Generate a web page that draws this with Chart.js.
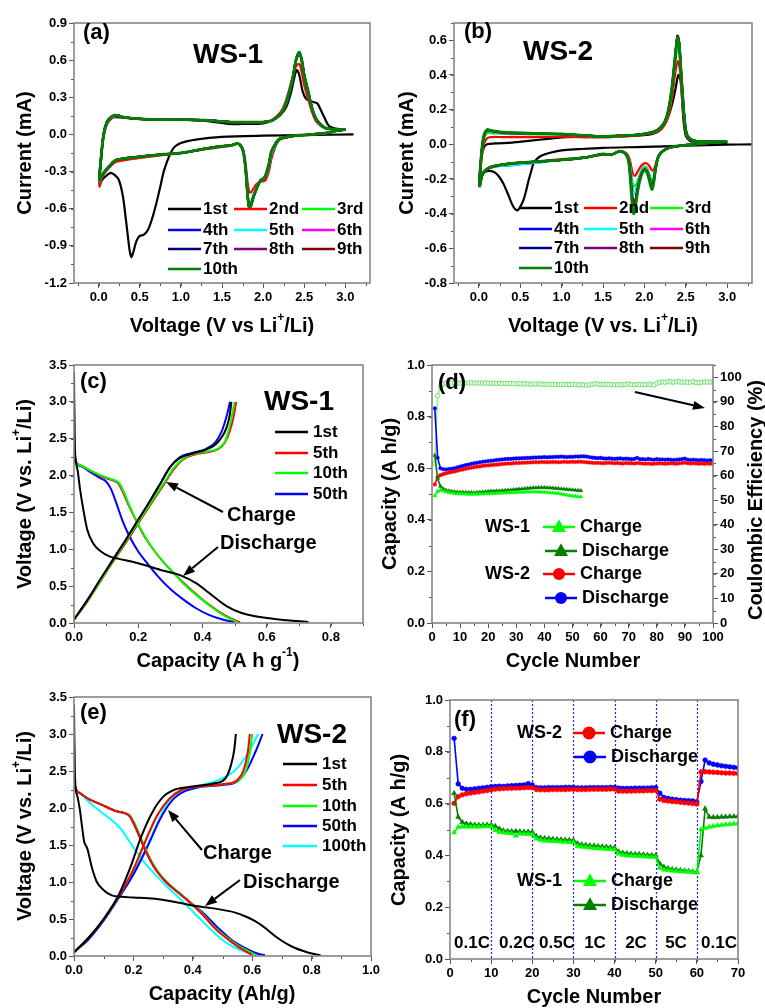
<!DOCTYPE html>
<html>
<head>
<meta charset="utf-8">
<script src="https://cdn.jsdelivr.net/npm/chart.js@4.4.0/dist/chart.umd.min.js"></script>
<style>
html, body { margin: 0; padding: 0; background: #fff; }
#wrap { position: relative; width: 765px; height: 1008px; overflow: hidden; }
canvas { position: absolute; left: 0; top: 0; }
</style>
</head>
<body>
<div id="wrap">
<canvas id="pa" width="765" height="1008"></canvas>
<canvas id="pb" width="765" height="1008"></canvas>
<canvas id="pc" width="765" height="1008"></canvas>
<canvas id="pd" width="765" height="1008"></canvas>
<canvas id="pe" width="765" height="1008"></canvas>
<canvas id="pf" width="765" height="1008"></canvas>
</div>
<script>
// ---------- data ----------
var cycleNames = ['1st', '2nd', '3rd', '4th', '5th', '6th', '7th', '8th', '9th', '10th'];
var cycleColors = ['#000000', '#ff0000', '#00ff00', '#0000ff', '#00ffff', '#ff00ff', '#000080', '#800080', '#800000', '#008000'];

// (a) CV WS-1, first cycle
var cvA1V = [3.10,2.50,2.00,1.50,1.20,1.00,0.90,0.80,0.75,0.70,0.65,0.60,0.55,0.50,0.46,0.43,0.40,0.38,0.36,0.33,0.30,0.27,0.24,0.20,0.15,0.10,0.05,0.01,
  0.03,0.06,0.10,0.15,0.20,0.30,0.50,0.80,1.00,1.30,1.60,1.80,2.00,2.10,2.20,2.28,2.34,2.38,2.41,2.44,2.48,2.52,2.57,2.62,2.66,2.70,2.75,2.80,2.90,3.00];
var cvA1I = [0.000,-0.005,-0.010,-0.020,-0.040,-0.070,-0.120,-0.280,-0.420,-0.560,-0.680,-0.770,-0.810,-0.820,-0.860,-0.930,-0.990,-0.950,-0.850,-0.680,-0.520,-0.420,-0.360,-0.330,-0.310,-0.330,-0.360,-0.400,
  -0.200,0.000,0.090,0.130,0.140,0.135,0.125,0.120,0.120,0.110,0.085,0.085,0.090,0.110,0.150,0.220,0.340,0.460,0.520,0.480,0.350,0.290,0.270,0.260,0.250,0.200,0.130,0.070,0.045,0.040];
// (a) later cycles share one voltage sweep
var cvAV = [3.00,2.90,2.80,2.60,2.40,2.30,2.20,2.15,2.10,2.07,2.03,2.00,1.97,1.92,1.88,1.85,1.83,1.81,1.79,1.77,1.75,1.72,1.69,1.65,1.60,1.50,1.30,1.00,0.80,0.50,0.30,0.20,0.10,0.05,0.01,
  0.03,0.06,0.10,0.15,0.20,0.25,0.30,0.50,0.80,1.00,1.30,1.60,1.80,2.00,2.10,2.17,2.23,2.28,2.32,2.36,2.40,2.44,2.47,2.50,2.55,2.60,2.65,2.75,2.90,3.00];
var cvA2I = [0.040,0.030,0.015,0.000,-0.010,-0.022,-0.045,-0.100,-0.200,-0.300,-0.370,-0.380,-0.380,-0.400,-0.440,-0.470,-0.460,-0.380,-0.250,-0.160,-0.110,-0.085,-0.075,-0.080,-0.090,-0.100,-0.120,-0.150,-0.165,-0.190,-0.210,-0.225,-0.290,-0.340,-0.420,
  -0.200,-0.020,0.080,0.125,0.145,0.145,0.140,0.125,0.120,0.120,0.115,0.100,0.100,0.100,0.115,0.150,0.200,0.280,0.370,0.470,0.550,0.570,0.500,0.400,0.280,0.170,0.100,0.050,0.040,0.040];
var cvA3I = [0.040,0.030,0.015,0.000,-0.010,-0.020,-0.040,-0.085,-0.160,-0.260,-0.340,-0.360,-0.370,-0.430,-0.500,-0.560,-0.570,-0.470,-0.290,-0.175,-0.115,-0.085,-0.075,-0.080,-0.090,-0.095,-0.115,-0.150,-0.160,-0.180,-0.195,-0.210,-0.275,-0.320,-0.380,
  -0.190,-0.010,0.090,0.135,0.150,0.150,0.140,0.125,0.120,0.120,0.115,0.100,0.100,0.100,0.110,0.140,0.185,0.260,0.350,0.460,0.600,0.650,0.590,0.470,0.330,0.195,0.115,0.052,0.040,0.040];
var cvA10I = [0.040,0.030,0.015,0.000,-0.010,-0.020,-0.035,-0.075,-0.140,-0.240,-0.330,-0.360,-0.370,-0.440,-0.510,-0.580,-0.590,-0.480,-0.300,-0.180,-0.120,-0.085,-0.075,-0.080,-0.090,-0.095,-0.115,-0.150,-0.160,-0.180,-0.195,-0.210,-0.280,-0.320,-0.370,
  -0.180,0.000,0.100,0.140,0.155,0.150,0.140,0.125,0.120,0.120,0.115,0.100,0.100,0.100,0.110,0.140,0.180,0.250,0.340,0.450,0.600,0.665,0.600,0.480,0.340,0.200,0.120,0.055,0.040,0.040];

// (b) CV WS-2
var cvB1V = [3.30,3.00,2.50,2.00,1.50,1.20,1.00,0.85,0.76,0.70,0.66,0.63,0.60,0.57,0.54,0.50,0.47,0.44,0.40,0.35,0.30,0.25,0.20,0.15,0.10,0.05,0.01,
  0.03,0.06,0.10,0.20,0.40,0.60,0.80,1.00,1.30,1.60,1.90,2.10,2.20,2.28,2.34,2.38,2.41,2.44,2.47,2.50,2.55,2.60,2.80,3.00];
var cvB1I = [0.000,-0.002,-0.008,-0.015,-0.020,-0.028,-0.035,-0.050,-0.065,-0.085,-0.110,-0.160,-0.210,-0.270,-0.320,-0.360,-0.380,-0.375,-0.345,-0.285,-0.230,-0.190,-0.165,-0.155,-0.155,-0.165,-0.210,
  -0.080,-0.020,0.000,0.005,0.010,0.020,0.030,0.040,0.045,0.045,0.050,0.060,0.085,0.150,0.240,0.330,0.400,0.360,0.150,0.050,0.020,0.015,0.010,0.010];
var cvBV = [3.00,2.80,2.60,2.40,2.30,2.22,2.17,2.14,2.11,2.09,2.06,2.03,2.00,1.97,1.94,1.91,1.89,1.87,1.85,1.83,1.81,1.78,1.74,1.70,1.65,1.60,1.50,1.30,1.00,0.70,0.40,0.25,0.15,0.08,0.04,0.01,
  0.03,0.06,0.10,0.15,0.30,0.60,1.00,1.30,1.50,1.70,1.90,2.05,2.15,2.22,2.27,2.31,2.34,2.37,2.40,2.42,2.44,2.46,2.49,2.52,2.60,2.80,3.00];
var cvB2I = [0.015,0.010,0.000,-0.010,-0.020,-0.040,-0.065,-0.110,-0.150,-0.150,-0.125,-0.110,-0.110,-0.120,-0.140,-0.165,-0.180,-0.180,-0.150,-0.100,-0.070,-0.050,-0.040,-0.040,-0.050,-0.060,-0.060,-0.075,-0.085,-0.100,-0.110,-0.120,-0.135,-0.150,-0.170,-0.220,
  -0.100,0.000,0.035,0.042,0.042,0.042,0.045,0.040,0.040,0.045,0.050,0.060,0.070,0.095,0.135,0.200,0.290,0.400,0.480,0.460,0.360,0.240,0.100,0.040,0.020,0.015,0.015];
var cvB3I = [0.015,0.010,0.000,-0.010,-0.020,-0.040,-0.068,-0.120,-0.190,-0.210,-0.170,-0.135,-0.130,-0.145,-0.180,-0.220,-0.240,-0.240,-0.200,-0.130,-0.080,-0.055,-0.042,-0.040,-0.050,-0.060,-0.058,-0.075,-0.088,-0.100,-0.110,-0.120,-0.132,-0.150,-0.175,-0.230,
  -0.080,0.030,0.065,0.065,0.060,0.058,0.056,0.048,0.043,0.048,0.053,0.063,0.075,0.105,0.150,0.230,0.330,0.460,0.560,0.540,0.410,0.280,0.110,0.045,0.020,0.015,0.015];
var cvB4I = [0.015,0.010,0.000,-0.010,-0.020,-0.040,-0.068,-0.125,-0.210,-0.230,-0.185,-0.145,-0.140,-0.155,-0.195,-0.250,-0.280,-0.285,-0.240,-0.150,-0.090,-0.058,-0.044,-0.040,-0.050,-0.060,-0.057,-0.075,-0.090,-0.105,-0.120,-0.125,-0.132,-0.150,-0.178,-0.235,
  -0.070,0.040,0.075,0.072,0.065,0.062,0.058,0.049,0.044,0.049,0.054,0.064,0.078,0.108,0.155,0.240,0.345,0.480,0.580,0.560,0.425,0.290,0.115,0.048,0.020,0.015,0.015];
var cvB6I = [0.015,0.010,0.000,-0.010,-0.020,-0.040,-0.070,-0.128,-0.220,-0.250,-0.200,-0.155,-0.145,-0.165,-0.210,-0.280,-0.330,-0.350,-0.290,-0.180,-0.095,-0.060,-0.045,-0.040,-0.050,-0.060,-0.056,-0.075,-0.090,-0.100,-0.110,-0.120,-0.130,-0.150,-0.180,-0.238,
  -0.065,0.045,0.082,0.078,0.068,0.064,0.059,0.050,0.045,0.050,0.055,0.065,0.080,0.110,0.158,0.248,0.355,0.495,0.625,0.585,0.440,0.298,0.118,0.049,0.020,0.015,0.015];
var cvB10I = [0.015,0.010,0.000,-0.010,-0.020,-0.040,-0.070,-0.130,-0.230,-0.260,-0.210,-0.160,-0.150,-0.170,-0.220,-0.300,-0.370,-0.400,-0.330,-0.200,-0.100,-0.060,-0.045,-0.040,-0.050,-0.060,-0.055,-0.075,-0.090,-0.100,-0.110,-0.120,-0.130,-0.150,-0.180,-0.240,
  -0.060,0.050,0.085,0.080,0.070,0.065,0.060,0.050,0.045,0.050,0.055,0.065,0.080,0.110,0.160,0.250,0.360,0.500,0.615,0.580,0.440,0.300,0.120,0.050,0.020,0.015,0.015];

// (c) charge/discharge WS-1
var gcNames = ['1st', '5th', '10th', '50th', '100th'];
var gcColors = ['#000000', '#ff0000', '#00ff00', '#0000ff', '#00ffff'];
var c1DQ = [0,0.002,0.006,0.012,0.019,0.029,0.041,0.060,0.081,0.112,0.140,0.200,0.270,0.330,0.380,0.420,0.475,0.520,0.580,0.630,0.680,0.730];
var c1DV = [3.40,2.50,2.20,2.05,1.81,1.54,1.27,1.08,0.98,0.90,0.87,0.81,0.72,0.65,0.54,0.41,0.23,0.14,0.08,0.05,0.03,0.015];
var c1CQ = [0,0.04,0.08,0.12,0.16,0.20,0.24,0.27,0.30,0.33,0.37,0.41,0.44,0.46,0.475,0.485,0.490];
var c1CV = [0.05,0.30,0.58,0.85,1.12,1.40,1.68,1.90,2.12,2.24,2.30,2.35,2.42,2.52,2.65,2.82,3.00];
var c5DQ = [0,0.001,0.003,0.020,0.050,0.080,0.110,0.130,0.140,0.155,0.170,0.190,0.220,0.250,0.280,0.310,0.340,0.370,0.400,0.430,0.460,0.490,0.517];
var c5DV = [3.00,2.40,2.22,2.14,2.07,2.00,1.95,1.92,1.88,1.75,1.60,1.42,1.17,0.98,0.82,0.68,0.55,0.43,0.32,0.22,0.13,0.06,0.01];
var c5CQ = [0,0.04,0.08,0.12,0.16,0.20,0.24,0.28,0.31,0.34,0.38,0.42,0.45,0.47,0.485,0.497,0.505];
var c5CV = [0.04,0.28,0.55,0.82,1.08,1.35,1.62,1.88,2.08,2.22,2.29,2.32,2.36,2.45,2.60,2.80,3.00];
var c10DQ = [0,0.001,0.003,0.020,0.050,0.080,0.110,0.130,0.142,0.157,0.172,0.190,0.220,0.250,0.280,0.310,0.340,0.370,0.400,0.430,0.460,0.490,0.510];
var c10DV = [3.00,2.40,2.22,2.14,2.07,2.01,1.96,1.93,1.89,1.76,1.60,1.43,1.18,0.98,0.82,0.68,0.54,0.42,0.31,0.21,0.12,0.05,0.01];
var c10CQ = [0,0.04,0.08,0.12,0.16,0.20,0.24,0.28,0.31,0.34,0.38,0.42,0.45,0.47,0.482,0.492,0.500];
var c10CV = [0.04,0.29,0.56,0.83,1.10,1.37,1.64,1.90,2.10,2.23,2.30,2.33,2.37,2.46,2.62,2.81,3.00];
var c50DQ = [0,0.001,0.003,0.020,0.050,0.080,0.100,0.115,0.130,0.150,0.170,0.200,0.230,0.260,0.300,0.340,0.380,0.420,0.460,0.500];
var c50DV = [3.00,2.40,2.20,2.13,2.05,1.97,1.92,1.82,1.65,1.40,1.20,0.97,0.80,0.64,0.46,0.32,0.20,0.11,0.05,0.01];
var c50CQ = [0,0.04,0.08,0.12,0.16,0.20,0.24,0.27,0.30,0.33,0.37,0.41,0.44,0.46,0.475,0.486];
var c50CV = [0.04,0.30,0.57,0.85,1.12,1.40,1.68,1.90,2.12,2.25,2.31,2.36,2.45,2.60,2.80,3.00];

// (e) charge/discharge WS-2
var e1DQ = [0,0.002,0.005,0.012,0.020,0.027,0.034,0.045,0.060,0.077,0.100,0.127,0.160,0.200,0.250,0.290,0.340,0.390,0.440,0.490,0.540,0.580,0.610,0.640,0.680,0.730,0.790,0.830];
var e1DV = [3.40,2.60,2.30,2.15,1.97,1.75,1.55,1.45,1.20,1.00,0.89,0.82,0.80,0.79,0.78,0.765,0.73,0.69,0.66,0.63,0.59,0.53,0.47,0.39,0.26,0.135,0.045,0.01];
var e1CQ = [0,0.05,0.10,0.15,0.19,0.225,0.265,0.30,0.34,0.40,0.47,0.51,0.53,0.54,0.545];
var e1CV = [0.05,0.25,0.50,0.82,1.20,1.60,1.95,2.15,2.25,2.29,2.33,2.40,2.60,2.80,3.00];
var e5DQ = [0,0.001,0.003,0.020,0.050,0.090,0.140,0.170,0.185,0.200,0.220,0.240,0.270,0.310,0.350,0.380,0.430,0.480,0.520,0.550,0.580,0.600];
var e5DV = [3.00,2.45,2.30,2.20,2.12,2.05,1.96,1.93,1.90,1.80,1.62,1.43,1.20,1.00,0.86,0.76,0.57,0.35,0.22,0.13,0.06,0.01];
var e5CQ = [0,0.05,0.10,0.15,0.20,0.24,0.28,0.32,0.36,0.42,0.50,0.55,0.57,0.585,0.592];
var e5CV = [0.05,0.25,0.50,0.80,1.17,1.55,1.90,2.12,2.24,2.29,2.32,2.38,2.50,2.75,3.00];
var e10DQ = [0,0.001,0.003,0.020,0.050,0.090,0.140,0.172,0.188,0.203,0.223,0.243,0.273,0.313,0.353,0.383,0.433,0.483,0.525,0.557,0.590,0.615];
var e10DV = [3.00,2.45,2.30,2.20,2.12,2.05,1.96,1.93,1.90,1.80,1.62,1.43,1.20,1.00,0.86,0.76,0.57,0.35,0.22,0.13,0.06,0.01];
var e10CQ = [0,0.05,0.10,0.15,0.20,0.24,0.28,0.32,0.36,0.42,0.50,0.555,0.578,0.592,0.600];
var e10CV = [0.05,0.25,0.50,0.80,1.17,1.55,1.90,2.12,2.24,2.29,2.32,2.38,2.50,2.75,3.00];
var e50DQ = [0,0.001,0.003,0.020,0.050,0.090,0.140,0.170,0.185,0.200,0.220,0.240,0.270,0.310,0.350,0.380,0.430,0.480,0.530,0.580,0.620,0.643];
var e50DV = [3.00,2.45,2.30,2.20,2.12,2.05,1.96,1.93,1.90,1.80,1.62,1.43,1.20,1.00,0.86,0.76,0.60,0.40,0.22,0.10,0.03,0.01];
var e50CQ = [0,0.05,0.10,0.15,0.20,0.25,0.29,0.33,0.37,0.42,0.50,0.55,0.58,0.61,0.635];
var e50CV = [0.05,0.23,0.48,0.78,1.10,1.50,1.85,2.10,2.22,2.28,2.31,2.36,2.50,2.75,3.00];
var e100DQ = [0,0.001,0.003,0.020,0.050,0.090,0.120,0.155,0.200,0.230,0.260,0.310,0.350,0.380,0.420,0.450,0.490,0.520,0.560,0.590,0.620];
var e100DV = [3.40,2.50,2.30,2.20,2.08,1.95,1.86,1.73,1.47,1.30,1.16,0.95,0.80,0.68,0.52,0.40,0.25,0.16,0.08,0.04,0.01];
var e100CQ = [0,0.05,0.10,0.15,0.20,0.25,0.29,0.32,0.36,0.40,0.45,0.50,0.54,0.58,0.620];
var e100CV = [0.05,0.23,0.48,0.78,1.12,1.52,1.88,2.10,2.22,2.28,2.33,2.40,2.50,2.70,3.00];

// (d) cycling, capacity in A h/g, efficiency in %
var d2Dis = [0.832,0.640,0.600,0.596,0.595,0.597,0.598,0.600,0.603,0.606,
  0.609,0.612,0.614,0.617,0.619,0.621,0.623,0.625,0.626,0.628,
  0.629,0.630,0.632,0.633,0.634,0.635,0.636,0.636,0.637,0.638,
  0.638,0.639,0.639,0.640,0.640,0.641,0.641,0.642,0.642,0.643,
  0.642,0.643,0.643,0.644,0.644,0.645,0.644,0.643,0.644,0.644,
  0.645,0.645,0.646,0.646,0.645,0.643,0.641,0.640,0.639,0.640,
  0.638,0.637,0.638,0.637,0.636,0.637,0.638,0.636,0.637,0.636,
  0.635,0.636,0.640,0.635,0.635,0.634,0.636,0.634,0.633,0.635,
  0.634,0.634,0.633,0.634,0.633,0.632,0.633,0.634,0.635,0.637,
  0.633,0.632,0.633,0.632,0.631,0.632,0.631,0.630,0.631,0.631];
var d2Chg = [0.537,0.565,0.573,0.577,0.580,0.583,0.585,0.587,0.590,0.593,
  0.595,0.598,0.600,0.602,0.604,0.606,0.607,0.609,0.610,0.611,
  0.612,0.613,0.614,0.615,0.616,0.617,0.618,0.618,0.619,0.620,
  0.620,0.621,0.621,0.622,0.622,0.623,0.623,0.623,0.624,0.624,
  0.623,0.624,0.624,0.624,0.623,0.624,0.625,0.624,0.624,0.625,
  0.624,0.625,0.625,0.624,0.623,0.622,0.621,0.620,0.621,0.620,
  0.619,0.620,0.621,0.620,0.619,0.620,0.619,0.618,0.620,0.619,
  0.619,0.618,0.620,0.619,0.618,0.617,0.618,0.616,0.617,0.618,
  0.619,0.618,0.617,0.618,0.619,0.618,0.617,0.619,0.620,0.621,
  0.619,0.618,0.619,0.618,0.617,0.618,0.617,0.618,0.617,0.618];
var dCE = [65.0,92.5,96.0,97.3,97.6,97.8,97.7,97.8,97.7,97.6,
  97.7,97.6,97.7,97.8,97.7,97.6,97.7,97.6,97.7,97.6,
  97.5,97.6,97.5,97.6,97.4,97.5,97.4,97.5,97.4,97.3,
  97.4,97.3,97.4,97.3,97.2,97.3,97.2,97.3,97.2,97.1,
  97.2,97.1,97.2,97.1,97.0,97.1,97.0,97.1,97.0,97.1,
  97.0,96.9,97.0,96.9,96.8,96.9,97.1,97.4,97.2,97.0,
  97.1,97.2,97.0,97.1,96.9,97.0,96.9,97.0,97.1,97.3,
  97.0,96.9,97.1,97.0,96.9,97.0,97.2,97.1,96.8,97.6,
  98.0,98.1,98.0,98.2,98.1,98.0,98.2,98.1,98.0,98.1,
  97.9,98.0,98.2,97.8,97.9,98.0,98.1,98.0,98.1,98.1];
var d1Chg = [0.493,0.510,0.515,0.512,0.509,0.506,0.504,0.502,0.501,0.500,
  0.500,0.500,0.499,0.499,0.499,0.499,0.500,0.500,0.501,0.501,
  0.502,0.502,0.503,0.503,0.504,0.504,0.505,0.505,0.506,0.506,
  0.507,0.507,0.507,0.508,0.508,0.508,0.508,0.508,0.507,0.507,
  0.506,0.505,0.504,0.503,0.502,0.500,0.498,0.496,0.494,0.492,
  0.491,0.490,0.489];
var d1Dis = [0.650,0.560,0.530,0.520,0.515,0.512,0.510,0.509,0.508,0.507,
  0.507,0.506,0.506,0.506,0.505,0.506,0.507,0.508,0.509,0.510,
  0.511,0.511,0.512,0.512,0.513,0.514,0.515,0.516,0.517,0.518,
  0.519,0.520,0.521,0.522,0.523,0.524,0.524,0.525,0.525,0.525,
  0.524,0.524,0.523,0.522,0.521,0.520,0.519,0.518,0.517,0.516,
  0.515,0.514,0.513];

// (f) rate test
var rateLabels = ['0.1C', '0.2C', '0.5C', '1C', '2C', '5C', '0.1C'];
var rateBreaks = [10, 20, 30, 40, 50, 60];
var f2Dis = [0.852,0.676,0.659,0.655,0.655,0.657,0.659,0.661,0.663,0.665,
  0.666,0.667,0.666,0.668,0.669,0.670,0.671,0.672,0.677,0.672,
  0.662,0.661,0.661,0.662,0.662,0.662,0.662,0.663,0.663,0.663,
  0.661,0.661,0.661,0.662,0.662,0.662,0.662,0.662,0.663,0.663,
  0.660,0.659,0.659,0.659,0.660,0.660,0.660,0.660,0.661,0.662,
  0.640,0.624,0.620,0.617,0.615,0.613,0.612,0.611,0.610,0.607,
  0.685,0.768,0.757,0.752,0.749,0.746,0.744,0.742,0.740,0.738];
var f2Chg = [0.601,0.627,0.634,0.638,0.641,0.643,0.645,0.648,0.650,0.653,
  0.656,0.657,0.658,0.659,0.659,0.660,0.660,0.661,0.662,0.661,
  0.654,0.653,0.653,0.653,0.654,0.654,0.654,0.654,0.655,0.655,
  0.654,0.654,0.654,0.655,0.655,0.655,0.655,0.655,0.656,0.656,
  0.648,0.648,0.648,0.648,0.649,0.649,0.649,0.650,0.650,0.651,
  0.617,0.612,0.610,0.608,0.607,0.605,0.603,0.602,0.600,0.598,
  0.722,0.723,0.722,0.721,0.720,0.719,0.718,0.718,0.717,0.716];
var f1Dis = [0.640,0.548,0.528,0.522,0.520,0.518,0.517,0.517,0.518,0.518,
  0.513,0.503,0.496,0.494,0.493,0.493,0.492,0.491,0.491,0.490,
  0.474,0.468,0.466,0.465,0.463,0.462,0.461,0.460,0.459,0.458,
  0.446,0.442,0.440,0.438,0.437,0.435,0.434,0.433,0.431,0.430,
  0.414,0.410,0.408,0.406,0.405,0.404,0.403,0.402,0.401,0.400,
  0.368,0.355,0.350,0.347,0.345,0.343,0.341,0.340,0.338,0.336,
  0.400,0.580,0.548,0.547,0.547,0.548,0.549,0.550,0.550,0.551];
var f1Chg = [0.488,0.510,0.511,0.511,0.511,0.511,0.511,0.512,0.512,0.512,
  0.497,0.490,0.488,0.486,0.485,0.476,0.484,0.483,0.482,0.481,
  0.464,0.459,0.457,0.456,0.455,0.454,0.453,0.452,0.451,0.450,
  0.436,0.433,0.431,0.430,0.428,0.427,0.426,0.425,0.424,0.423,
  0.406,0.402,0.400,0.399,0.398,0.397,0.396,0.395,0.394,0.393,
  0.352,0.345,0.343,0.341,0.340,0.338,0.337,0.336,0.335,0.333,
  0.500,0.505,0.510,0.513,0.515,0.517,0.519,0.520,0.522,0.524];

// tick labels
var ticksCV = [0, 0.5, 1.0, 1.5, 2.0, 2.5, 3.0];
var ticksA = [-1.2, -0.9, -0.6, -0.3, 0, 0.3, 0.6, 0.9];
var ticksB = [-0.8, -0.6, -0.4, -0.2, 0, 0.2, 0.4, 0.6];
var ticksVolt = [0, 0.5, 1.0, 1.5, 2.0, 2.5, 3.0, 3.5];
var ticksCapC = [0, 0.2, 0.4, 0.6, 0.8];
var ticksCapE = [0, 0.2, 0.4, 0.6, 0.8, 1.0];
var ticksCap = [0, 0.2, 0.4, 0.6, 0.8, 1.0];
var ticksCycD = [0, 10, 20, 30, 40, 50, 60, 70, 80, 90, 100];
var ticksCE = [0, 10, 20, 30, 40, 50, 60, 70, 80, 90, 100];
var ticksCycF = [0, 10, 20, 30, 40, 50, 60, 70];

// ---------- drawing helpers ----------
var FONT = '"Liberation Sans", Arial, Helvetica, sans-serif';
Chart.defaults.font.family = FONT;
Chart.defaults.font.weight = 'bold';
Chart.defaults.color = '#000';

var deco = {};

function pts(xs, ys) {
  return xs.map(function (x, i) { return { x: x, y: ys[i] }; });
}
function counts(n) {
  return Array.from({ length: n }, function (_, i) { return i + 1; });
}

function drawRich(ctx, it) {
  var size = it.size || 20;
  var parts = it.s.split(/(\{[^}]*\})/).filter(function (p) { return p; }).map(function (p) {
    return p[0] === '{' ? { t: p.slice(1, -1), sup: true } : { t: p, sup: false };
  });
  var fnt = function (sup) { return 'bold ' + (sup ? Math.round(size * 0.62) : size) + 'px ' + FONT; };
  var w = 0;
  parts.forEach(function (p) { ctx.font = fnt(p.sup); p.w = ctx.measureText(p.t).width; w += p.w; });
  ctx.save();
  ctx.translate(it.x, it.y);
  if (it.rot) ctx.rotate(-Math.PI / 2);
  var x0 = it.align === 'left' ? 0 : (it.align === 'right' ? -w : -w / 2);
  ctx.textBaseline = 'middle';
  ctx.textAlign = 'left';
  ctx.fillStyle = '#000';
  parts.forEach(function (p) {
    ctx.font = fnt(p.sup);
    ctx.fillText(p.t, x0, p.sup ? -size * 0.4 : 0);
    x0 += p.w;
  });
  ctx.restore();
}

function drawMarker(ctx, kind, x, y, r, color) {
  ctx.fillStyle = color;
  ctx.beginPath();
  if (kind === 'circle') {
    ctx.arc(x, y, r, 0, Math.PI * 2);
  } else {
    ctx.moveTo(x, y - r * 1.1);
    ctx.lineTo(x + r, y + r * 0.7);
    ctx.lineTo(x - r, y + r * 0.7);
    ctx.closePath();
  }
  ctx.fill();
}

function drawKey(ctx, k) {
  ctx.setLineDash([]);
  ctx.strokeStyle = k.color;
  ctx.lineWidth = k.lw || 2.5;
  ctx.beginPath();
  ctx.moveTo(k.x, k.y);
  ctx.lineTo(k.x + k.len, k.y);
  ctx.stroke();
  if (k.marker) drawMarker(ctx, k.marker, k.x + k.len / 2, k.y, k.r || 6, k.color);
  if (k.label) drawRich(ctx, { s: k.label, x: k.x + k.len + (k.gap || 2), y: k.y, size: k.size || 17, align: 'left' });
}

function drawArrow(ctx, a) {
  var ang = Math.atan2(a.y2 - a.y1, a.x2 - a.x1), L = 12, W = 4.5;
  var bx = a.x2 - L * Math.cos(ang), by = a.y2 - L * Math.sin(ang);
  ctx.setLineDash([]);
  ctx.strokeStyle = '#000';
  ctx.lineWidth = 2;
  ctx.beginPath();
  ctx.moveTo(a.x1, a.y1);
  ctx.lineTo(bx, by);
  ctx.stroke();
  ctx.fillStyle = '#000';
  ctx.beginPath();
  ctx.moveTo(a.x2, a.y2);
  ctx.lineTo(bx + W * Math.sin(ang), by - W * Math.cos(ang));
  ctx.lineTo(bx - W * Math.sin(ang), by + W * Math.cos(ang));
  ctx.closePath();
  ctx.fill();
}

var decoPlugin = {
  id: 'deco',
  beforeDatasetsDraw: function (chart) {
    var o = deco[chart.canvas.id];
    if (!o || !o.vlines) return;
    var ctx = chart.ctx, a = chart.chartArea, sx = chart.scales.x;
    ctx.save();
    ctx.strokeStyle = '#1f1fff';
    ctx.lineWidth = 1.2;
    ctx.setLineDash([2, 2]);
    o.vlines.forEach(function (v) {
      var px = Math.round(sx.getPixelForValue(v)) + 0.5;
      ctx.beginPath();
      ctx.moveTo(px, a.top);
      ctx.lineTo(px, a.bottom);
      ctx.stroke();
    });
    ctx.restore();
  },
  afterDraw: function (chart) {
    var o = deco[chart.canvas.id] || {};
    var ctx = chart.ctx, a = chart.chartArea;
    ctx.save();
    // minor ticks
    ctx.strokeStyle = '#555';
    ctx.lineWidth = 1;
    Object.keys(o.minor || {}).forEach(function (id) {
      var s = chart.scales[id], step = o.minor[id];
      for (var k = Math.ceil(s.min / step - 1e-9); k * step <= s.max + 1e-9; k++) {
        var p = Math.round(s.getPixelForValue(k * step)) + 0.5;
        ctx.beginPath();
        if (id === 'x') { ctx.moveTo(p, a.bottom); ctx.lineTo(p, a.bottom + 3); }
        else if (s.position === 'right') { ctx.moveTo(a.right, p); ctx.lineTo(a.right + 3, p); }
        else { ctx.moveTo(a.left - 3, p); ctx.lineTo(a.left, p); }
        ctx.stroke();
      }
    });
    // frame
    ctx.strokeStyle = '#858585';
    ctx.lineWidth = 1.6;
    ctx.strokeRect(a.left, a.top, a.right - a.left, a.bottom - a.top);
    (o.keys || []).forEach(function (k) { drawKey(ctx, k); });
    (o.arrows || []).forEach(function (k) { drawArrow(ctx, k); });
    (o.texts || []).forEach(function (t) { drawRich(ctx, t); });
    ctx.restore();
  }
};

function axis(min, max, ticks, dec, extra) {
  return Object.assign({
    type: 'linear',
    min: min,
    max: max,
    afterBuildTicks: function (s) { s.ticks = ticks.map(function (v) { return { value: v }; }); },
    ticks: {
      color: '#000',
      font: { size: 13, weight: 'bold', family: FONT },
      padding: 2,
      maxRotation: 0,
      autoSkip: false,
      callback: function (v) { return Number(v).toFixed(dec); }
    },
    grid: { drawOnChartArea: false, drawTicks: true, tickLength: 5, color: '#555', lineWidth: 1 },
    border: { display: false },
    title: { display: false }
  }, extra || {});
}

function build(id, area, scales, datasets) {
  var rW = scales.y2 ? 50 : 0;
  scales.x.afterFit = function (s) { s.height = 30; };
  scales.y.afterFit = function (s) { s.width = 60; };
  if (scales.y2) scales.y2.afterFit = function (s) { s.width = 50; };
  return new Chart(document.getElementById(id), {
    type: 'scatter',
    data: { datasets: datasets },
    options: {
      responsive: false,
      animation: false,
      devicePixelRatio: 1,
      events: [],
      layout: { padding: { left: area.l - 60, top: area.t, right: 765 - area.r - rW, bottom: 1008 - area.b - 30 } },
      scales: scales,
      plugins: { legend: { display: false }, tooltip: { enabled: false } }
    },
    plugins: [decoPlugin]
  });
}

function line(xs, ys, color, w, i, extra) {
  return Object.assign({
    data: pts(xs, ys),
    borderColor: color,
    backgroundColor: color,
    borderWidth: w,
    pointRadius: 0,
    showLine: true,
    fill: false,
    tension: 0.3,
    order: -i
  }, extra || {});
}

function marks(xs, ys, color, style, r, i, extra) {
  return Object.assign({
    data: pts(xs, ys),
    borderColor: color,
    backgroundColor: color,
    pointBackgroundColor: color,
    pointBorderColor: color,
    borderWidth: 1.6,
    pointBorderWidth: 0.5,
    pointStyle: style,
    pointRadius: r,
    showLine: true,
    fill: false,
    tension: 0,
    order: -i
  }, extra || {});
}

function cvKeys(cols, rows, len) {
  return cycleNames.map(function (n, i) {
    return { x: cols[i % 3], y: rows[Math.floor(i / 3)], len: len, color: cycleColors[i], label: n, lw: 2.6, size: 17, gap: 2 };
  });
}

// ---------- (a) ----------
var cvACur = [cvA1I, cvA2I, cvA3I, cvA3I, cvA3I, cvA10I, cvA10I, cvA10I, cvA10I, cvA10I];
deco.pa = {
  minor: { x: 0.25, y: 0.15 },
  keys: cvKeys([168, 234, 302], [209, 230, 249, 269], 33),
  texts: [
    { s: '(a)', x: 83, y: 33, size: 22, align: 'left' },
    { s: 'WS-1', x: 228, y: 55, size: 28 },
    { s: 'Current (mA)', x: 25, y: 153, size: 20, rot: true },
    { s: 'Voltage (V vs Li{+}/Li)', x: 222, y: 326, size: 20 }
  ]
};
build('pa', { l: 74, t: 23, r: 370, b: 283 }, {
  x: axis(-0.3, 3.3, ticksCV, 1),
  y: axis(-1.2, 0.9, ticksA, 1)
}, cvACur.map(function (cur, i) {
  return line(i === 0 ? cvA1V : cvAV, cur, cycleColors[i], i === 9 ? 2.8 : 2.2, i);
}));

// ---------- (b) ----------
var cvBCur = [cvB1I, cvB2I, cvB3I, cvB4I, cvB4I, cvB6I, cvB6I, cvB6I, cvB6I, cvB10I];
deco.pb = {
  minor: { x: 0.25, y: 0.1 },
  keys: cvKeys([519, 584, 650], [208, 229, 248, 268], 33),
  texts: [
    { s: '(b)', x: 464, y: 32, size: 22, align: 'left' },
    { s: 'WS-2', x: 558, y: 52, size: 28 },
    { s: 'Current (mA)', x: 407, y: 153, size: 20, rot: true },
    { s: 'Voltage (V vs. Li{+}/Li)', x: 603, y: 326, size: 20 }
  ]
};
build('pb', { l: 454, t: 23, r: 752, b: 283 }, {
  x: axis(-0.3, 3.3, ticksCV, 1),
  y: axis(-0.8, 0.7, ticksB, 1)
}, cvBCur.map(function (cur, i) {
  return line(i === 0 ? cvB1V : cvBV, cur, cycleColors[i], i === 9 ? 2.8 : 2.2, i);
}));

// ---------- (c) ----------
var gcOpt = { tension: 0, cubicInterpolationMode: 'monotone' };
deco.pc = {
  minor: { x: 0.1, y: 0.25 },
  keys: [0, 1, 2, 3].map(function (i) {
    return { x: 275, y: [432, 453, 473, 494][i], len: 33, color: gcColors[i], label: gcNames[i], lw: 2.4, size: 17, gap: 5 };
  }),
  arrows: [
    { x1: 223, y1: 512, x2: 166, y2: 482 },
    { x1: 218, y1: 547, x2: 183, y2: 576 }
  ],
  texts: [
    { s: '(c)', x: 80, y: 382, size: 22, align: 'left' },
    { s: 'WS-1', x: 299, y: 402, size: 28 },
    { s: 'Charge', x: 227, y: 515, size: 20, align: 'left' },
    { s: 'Discharge', x: 220, y: 543, size: 20, align: 'left' },
    { s: 'Voltage (V vs. Li{+}/Li)', x: 25, y: 494, size: 20, rot: true },
    { s: 'Capacity (A h g{-1})', x: 218, y: 661, size: 20 }
  ]
};
build('pc', { l: 74, t: 365, r: 363, b: 623 }, {
  x: axis(0, 0.9, ticksCapC, 1),
  y: axis(0, 3.5, ticksVolt, 1)
}, [
  line(c50DQ, c50DV, gcColors[3], 2, 1, gcOpt),
  line(c50CQ, c50CV, gcColors[3], 2, 2, gcOpt),
  line(c5DQ, c5DV, gcColors[1], 2, 3, gcOpt),
  line(c5CQ, c5CV, gcColors[1], 2, 4, gcOpt),
  line(c10DQ, c10DV, gcColors[2], 2, 5, gcOpt),
  line(c10CQ, c10CV, gcColors[2], 2, 6, gcOpt),
  line(c1CQ, c1CV, gcColors[0], 2, 7, gcOpt),
  line(c1DQ, c1DV, gcColors[0], 2, 8, gcOpt)
]);

// ---------- (d) ----------
var cycD = counts(100);
var cycD1 = counts(53);
deco.pd = {
  minor: { x: 5, y: 0.1, y2: 5 },
  keys: [
    { x: 543, y: 527, len: 32, color: '#00ff00', marker: 'triangle', r: 7, label: 'Charge', size: 18, gap: 5 },
    { x: 545, y: 551, len: 32, color: '#008000', marker: 'triangle', r: 7, label: 'Discharge', size: 18, gap: 5 },
    { x: 543, y: 574, len: 32, color: '#ff0000', marker: 'circle', r: 6, label: 'Charge', size: 18, gap: 5 },
    { x: 545, y: 598, len: 32, color: '#0000ff', marker: 'circle', r: 6, label: 'Discharge', size: 18, gap: 5 }
  ],
  arrows: [{ x1: 635, y1: 392, x2: 705, y2: 408 }],
  texts: [
    { s: '(d)', x: 438, y: 383, size: 22, align: 'left' },
    { s: 'WS-1', x: 530, y: 527, size: 18, align: 'right' },
    { s: 'WS-2', x: 530, y: 574, size: 18, align: 'right' },
    { s: 'Capacity (A h/g)', x: 390, y: 494, size: 20, rot: true },
    { s: 'Coulombic Efficiency (%)', x: 756, y: 500, size: 20, rot: true },
    { s: 'Cycle Number', x: 573, y: 661, size: 20 }
  ]
};
build('pd', { l: 432, t: 365, r: 713, b: 623 }, {
  x: axis(0, 100, ticksCycD, 0),
  y: axis(0, 1.0, ticksCap, 1),
  y2: axis(0, 105, ticksCE, 0, { position: 'right' })
}, [
  marks(cycD, dCE, '#77ee77', 'circle', 2.2, 1, { yAxisID: 'y2', pointBackgroundColor: '#ffffff', pointBorderColor: '#66e066', pointBorderWidth: 1, borderWidth: 1.2 }),
  marks(cycD, d2Dis, '#0000ff', 'circle', 1.8, 2),
  marks(cycD, d2Chg, '#ff0000', 'circle', 1.8, 3),
  marks(cycD1, d1Dis, '#008000', 'triangle', 2.2, 4),
  marks(cycD1, d1Chg, '#00ff00', 'triangle', 2.2, 5)
]);

// ---------- (e) ----------
deco.pe = {
  minor: { x: 0.1, y: 0.25 },
  keys: [0, 1, 2, 3, 4].map(function (i) {
    return { x: 283, y: [764, 785, 806, 826, 846][i], len: 34, color: gcColors[i], label: gcNames[i], lw: 2.4, size: 17, gap: 5 };
  }),
  arrows: [
    { x1: 202, y1: 850, x2: 168, y2: 810 },
    { x1: 240, y1: 880, x2: 205, y2: 906 }
  ],
  texts: [
    { s: '(e)', x: 80, y: 713, size: 22, align: 'left' },
    { s: 'WS-2', x: 312, y: 735, size: 28 },
    { s: 'Charge', x: 203, y: 853, size: 20, align: 'left' },
    { s: 'Discharge', x: 243, y: 882, size: 20, align: 'left' },
    { s: 'Voltage (V vs. Li{+}/Li)', x: 25, y: 826, size: 20, rot: true },
    { s: 'Capacity (Ah/g)', x: 222, y: 994, size: 20 }
  ]
};
build('pe', { l: 74, t: 697, r: 371, b: 956 }, {
  x: axis(0, 1.0, ticksCapE, 1),
  y: axis(0, 3.5, ticksVolt, 1)
}, [
  line(e100DQ, e100DV, gcColors[4], 2, 1, gcOpt),
  line(e100CQ, e100CV, gcColors[4], 2, 2, gcOpt),
  line(e50DQ, e50DV, gcColors[3], 2, 3, gcOpt),
  line(e50CQ, e50CV, gcColors[3], 2, 4, gcOpt),
  line(e10DQ, e10DV, gcColors[2], 2, 5, gcOpt),
  line(e10CQ, e10CV, gcColors[2], 2, 6, gcOpt),
  line(e5DQ, e5DV, gcColors[1], 2, 7, gcOpt),
  line(e5CQ, e5CV, gcColors[1], 2, 8, gcOpt),
  line(e1CQ, e1CV, gcColors[0], 2, 9, gcOpt),
  line(e1DQ, e1DV, gcColors[0], 2, 10, gcOpt)
]);

// ---------- (f) ----------
var cycF = counts(70);
var rateX = [472, 517, 557, 595, 636, 676, 719];
deco.pf = {
  minor: { x: 5, y: 0.1 },
  vlines: rateBreaks,
  keys: [
    { x: 573, y: 733, len: 32, color: '#ff0000', marker: 'circle', r: 6.5, label: 'Charge', size: 18, gap: 5 },
    { x: 574, y: 757, len: 32, color: '#0000ff', marker: 'circle', r: 6.5, label: 'Discharge', size: 18, gap: 5 },
    { x: 574, y: 881, len: 32, color: '#00ff00', marker: 'triangle', r: 7, label: 'Charge', size: 18, gap: 5 },
    { x: 574, y: 905, len: 32, color: '#008000', marker: 'triangle', r: 7, label: 'Discharge', size: 18, gap: 5 }
  ],
  texts: [
    { s: '(f)', x: 454, y: 720, size: 22, align: 'left' },
    { s: 'WS-2', x: 562, y: 733, size: 18, align: 'right' },
    { s: 'WS-1', x: 562, y: 881, size: 18, align: 'right' },
    { s: 'Capacity (A h/g)', x: 399, y: 830, size: 20, rot: true },
    { s: 'Cycle Number', x: 594, y: 997, size: 20 }
  ].concat(rateLabels.map(function (t, i) { return { s: t, x: rateX[i], y: 943, size: 17 }; }))
};
build('pf', { l: 450, t: 700, r: 738, b: 959 }, {
  x: axis(0, 70, ticksCycF, 0),
  y: axis(0, 1.0, ticksCap, 1)
}, [
  marks(cycF, f2Dis, '#0000ff', 'circle', 2.4, 1),
  marks(cycF, f2Chg, '#ff0000', 'circle', 2.4, 2),
  marks(cycF, f1Dis, '#008000', 'triangle', 3, 3),
  marks(cycF, f1Chg, '#00ff00', 'triangle', 3, 4)
]);
</script>
</body>
</html>
